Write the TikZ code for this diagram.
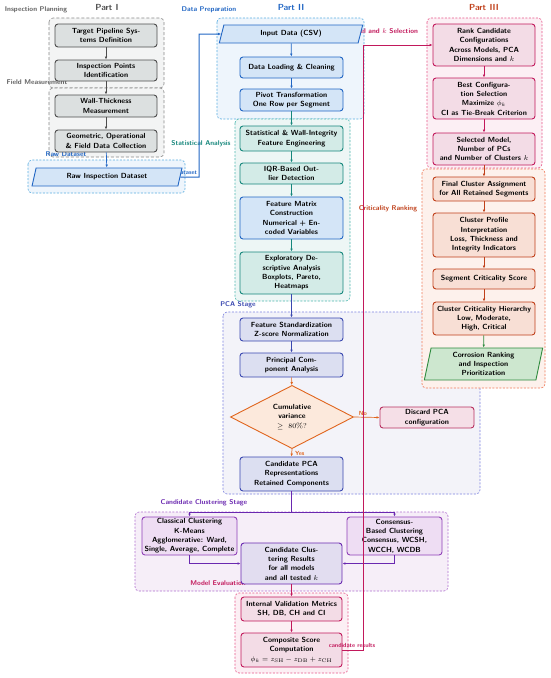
\documentclass[tikz,border=0pt]{standalone}
\usepackage{fontspec}
\usetikzlibrary{arrows.meta,shapes.geometric,calc}
\definecolor{gB}{HTML}{4D4D4D}
\definecolor{gF}{HTML}{DCE0E0}
\definecolor{gG}{HTML}{F3F4F4}
\definecolor{gD}{HTML}{8A8A8A}
\definecolor{bB}{HTML}{2166C4}
\definecolor{bF}{HTML}{D4E5F7}
\definecolor{bG}{HTML}{EEF5FC}
\definecolor{bD}{HTML}{5AAEE0}
\definecolor{tB}{HTML}{16877C}
\definecolor{tF}{HTML}{D3EBE7}
\definecolor{tG}{HTML}{EDF6F5}
\definecolor{tD}{HTML}{4DB8B0}
\definecolor{iB}{HTML}{3A48B0}
\definecolor{iF}{HTML}{DCDFF1}
\definecolor{iG}{HTML}{F3F3F9}
\definecolor{iD}{HTML}{7C82E0}
\definecolor{oB}{HTML}{E0651E}
\definecolor{oF}{HTML}{FCE9DC}
\definecolor{pkB}{HTML}{B8305F}
\definecolor{pkF}{HTML}{F5DFE7}
\definecolor{uB}{HTML}{9040B8}
\definecolor{uF}{HTML}{EEDDF3}
\definecolor{uS}{HTML}{6A28B0}
\definecolor{uR}{HTML}{E2DDF0}
\definecolor{uG}{HTML}{F6EEF8}
\definecolor{uD}{HTML}{B070D0}
\definecolor{cB}{HTML}{C2185B}
\definecolor{cF}{HTML}{F3DCE6}
\definecolor{cG}{HTML}{FCEFF4}
\definecolor{cD}{HTML}{E8578A}
\definecolor{rB}{HTML}{C0401A}
\definecolor{rF}{HTML}{F8DFD5}
\definecolor{rG}{HTML}{FDF1EC}
\definecolor{rD}{HTML}{F07A5A}
\definecolor{nB}{HTML}{2E8B3E}
\definecolor{nF}{HTML}{CDE7CF}
\newcommand{\bxfont}{\sffamily\bfseries\fontsize{7.4}{9.3}\selectfont}
\newcommand{\lbfont}{\sffamily\bfseries\fontsize{6.9}{8}\selectfont}
\newcommand{\ptfont}{\sffamily\bfseries\fontsize{8.8}{10}\selectfont}
\newcommand{\smfont}{\sffamily\bfseries\fontsize{6}{7}\selectfont}
\tikzset{
  box/.style={rounded corners=3pt, line width=0.9pt, align=center, inner sep=1pt, font=\bxfont, text=black},
  gbox/.style={box, draw=gB, fill=gF, minimum width=102pt},
  bbox/.style={box, draw=bB, fill=bF, minimum width=103pt},
  tbox/.style={box, draw=tB, fill=tF, minimum width=103pt},
  ibox/.style={box, draw=iB, fill=iF, minimum width=103pt},
  ubox/.style={box, draw=uB, fill=uF, minimum width=95pt},
  cbox/.style={box, draw=cB, fill=cF, minimum width=102pt},
  rbox/.style={box, draw=rB, fill=rF, minimum width=102pt},
  para/.style={trapezium, trapezium stretches=true, line width=0.9pt, align=center, inner sep=1pt, font=\bxfont, text=black},
  grp/.style={rounded corners=4pt, line width=0.6pt, dash pattern=on 2pt off 1.5pt},
  ggrp/.style={rounded corners=4pt, line width=0.6pt, dash pattern=on 3pt off 2pt},
  glabel/.style={font=\lbfont, inner sep=0pt},
  plabel/.style={font=\ptfont, inner sep=0pt},
  arr/.style={-{Latex[length=3pt,width=2.6pt]}, line width=0.7pt},
  elabel/.style={font=\smfont, inner sep=1pt}
}
\begin{document}
\begin{tikzpicture}[x=1pt,y=-1pt]
\useasboundingbox[fill=white] (0,0) rectangle (550,678);
% ---------- groups ----------
\draw[ggrp, draw=gD, fill=gG] (49,18) rectangle (164,88);
\draw[ggrp, draw=gD, fill=gG] (49,88) rectangle (164,157);
\draw[grp, draw=bD, fill=bG] (28,160) rectangle (185,193);
\draw[grp, draw=bD, fill=bG] (217,18) rectangle (364,119);
\draw[grp, draw=tD, fill=tG] (235,119) rectangle (350,301);
\draw[grp, draw=iD, fill=iG] (223,312) rectangle (480,494);
\draw[grp, draw=uD, fill=uG] (135,512) rectangle (448,591);
\draw[grp, draw=cD, fill=cG] (235,593) rectangle (348,673);
\draw[grp, draw=cD, fill=cG] (427,18) rectangle (542,168);
\draw[grp, draw=rD, fill=rG] (422,169) rectangle (545,388);
% ---------- part titles and group labels ----------
\node[plabel, text=gB] (partI) at (107,7) {Part I};
\node[plabel, text=bB] (partII) at (291,7) {Part II};
\node[plabel, text=rB] (partIII) at (484,7) {Part III};
\node[glabel, text=gB!90] (lIP) at (36,10) {Inspection Planning};
\node[glabel, text=gB!90] (lFM) at (37,82) {Field Measurement};
\node[glabel, text=bB] (lRD) at (66,154) {Raw Dataset};
\node[glabel, text=bB] (lDP) at (209,10) {Data Preparation};
\node[glabel, text=tB] (lSA) at (201,144) {Statistical Analysis};
\node[glabel, text=iB] (lPCA) at (238,305) {PCA Stage};
\node[glabel, text=uS] (lCC) at (204,503) {Candidate Clustering Stage};
\node[glabel, text=cB] (lME) at (218,583) {Model Evaluation};
\node[glabel, text=cB] (lMK) at (382,31) {Model and $k$ Selection};
\node[glabel, text=rB] (lCR) at (388,209) {Criticality Ranking};
\node[elabel, text=bB] (lds) at (187,172) {dataset};
% ---------- Part I ----------
\node[gbox, minimum height=23pt] (t1) at (106,35.5) {Target Pipeline Sys-\\tems Definition};
\node[gbox, minimum height=21pt] (t2) at (106,70.5) {Inspection Points\\Identification};
\node[gbox, minimum height=22pt] (t3) at (106,106) {Wall-Thickness\\Measurement};
\node[gbox, minimum height=22pt] (t4) at (106,141) {Geometric, Operational\\\& Field Data Collection};
\node[para, draw=bB, fill=bF, trapezium left angle=74.5, trapezium right angle=105.5, minimum width=150pt, minimum height=18pt] (raw) at (107,177) {Raw Inspection Dataset};
% ---------- Part II ----------
\node[para, draw=bB, fill=bF, trapezium left angle=77, trapezium right angle=103, minimum width=144pt, minimum height=18pt] (input) at (291,34) {Input Data (CSV)};
\node[bbox, minimum height=21pt] (d1) at (291.5,67.5) {Data Loading \& Cleaning};
\node[bbox, minimum height=22pt] (d2) at (291.5,100) {Pivot Transformation\\One Row per Segment};
\node[tbox, minimum height=25pt] (s1) at (291.5,138.5) {Statistical \& Wall-Integrity\\Feature Engineering};
\node[tbox, minimum height=21pt] (s2) at (291.5,173.5) {IQR-Based Out-\\lier Detection};
\node[bbox, minimum height=42pt] (s3) at (291.5,218) {Feature Matrix\\Construction\\Numerical + En-\\coded Variables};
\node[tbox, minimum height=42pt] (s4) at (291.5,273) {Exploratory De-\\scriptive Analysis\\Boxplots, Pareto,\\Heatmaps};
\node[ibox, minimum height=23pt] (p1) at (291.5,329.5) {Feature Standardization\\Z-score Normalization};
\node[ibox, minimum height=24pt] (p2) at (291.5,365) {Principal Com-\\ponent Analysis};
\node[diamond, draw=oB, fill=oF, line width=0.9pt, minimum width=123pt, minimum height=51pt, inner sep=0pt, align=center, font=\bxfont] (dia) at (292,417) {Cumulative\\variance\\$\geq\ 80\%?$};
\node[ibox, minimum height=34pt] (p3) at (291.5,474) {Candidate PCA\\Representations\\Retained Components};
\node[box, draw=pkB, fill=pkF, minimum width=94pt, minimum height=21pt] (disc) at (427,417.5) {Discard PCA\\configuration};
\node[ubox, minimum height=38pt] (c1) at (189.5,536) {Classical Clustering\\K-Means\\Agglomerative: Ward,\\Single, Average, Complete};
\node[ubox, minimum height=38pt] (c2) at (394.5,536) {Consensus-\\Based Clustering\\Consensus, WCSH,\\WCCH, WCDB};
\node[box, draw=uS, fill=uR, minimum width=101pt, minimum height=41pt] (c3) at (291.5,563.5) {Candidate Clus-\\tering Results\\for all models\\and all tested $k$};
\node[cbox, minimum width=101pt, minimum height=24pt] (m1) at (291.5,609) {Internal Validation Metrics\\SH, DB, CH and CI};
\node[cbox, minimum width=101pt, minimum height=34pt] (m2) at (291.5,650) {Composite Score\\Computation\\$\phi_k = z_{\mathrm{SH}} - z_{\mathrm{DB}} + z_{\mathrm{CH}}$};
% ---------- Part III ----------
\node[cbox, minimum height=42pt] (r1) at (484,45) {Rank Candidate\\Configurations\\Across Models, PCA\\Dimensions and $k$};
\node[cbox, minimum height=41pt] (r2) at (484,98.5) {Best Configura-\\tion Selection\\Maximize $\phi_k$\\CI as Tie-Break Criterion};
\node[cbox, minimum height=32pt] (r3) at (484,149) {Selected Model,\\Number of PCs\\and Number of Clusters $k$};
\node[rbox, minimum height=24pt] (k1) at (484,189) {Final Cluster Assignment\\for All Retained Segments};
\node[rbox, minimum height=44pt] (k2) at (484,235) {Cluster Profile\\Interpretation\\Loss, Thickness and\\Integrity Indicators};
\node[rbox, minimum height=20pt] (k3) at (484,279) {Segment Criticality Score};
\node[rbox, minimum height=33pt] (k4) at (484,318.5) {Cluster Criticality Hierarchy\\Low, Moderate,\\High, Critical};
\node[para, draw=nB, fill=nF, trapezium left angle=81, trapezium right angle=99, minimum width=119pt, minimum height=32pt] (k5) at (483.5,364) {Corrosion Ranking\\and Inspection\\Prioritization};
% ---------- connectors ----------
\draw[arr, draw=gB] (t1) -- (t2);
\draw[arr, draw=gB] (t2) -- (t3);
\draw[arr, draw=gB] (t3) -- (t4);
\draw[arr, draw=bB] (t4) -- (raw);
\coordinate (jr) at (199,177);
\coordinate (jt) at (199,34);
\draw[arr, draw=bB, line width=1pt] (raw.east) -- (jr) -- (jt) -- (input.west);
\draw[arr, draw=bB] (input) -- (d1);
\draw[arr, draw=bB] (d1) -- (d2);
\draw[arr, draw=tB] (d2) -- (s1);
\draw[arr, draw=tB] (s1) -- (s2);
\draw[arr, draw=tB] (s2) -- (s3);
\draw[arr, draw=tB] (s3) -- (s4);
\draw[arr, draw=iB] (s4) -- (p1);
\draw[arr, draw=iB] (p1) -- (p2);
\draw[arr, draw=oB] (p2) -- (dia);
\draw[arr, draw=oB] (dia.south) -- (p3.north) node[elabel, text=oB, pos=0.55, right=2pt] (lyes) {Yes};
\draw[arr, draw=oB] (dia.east) -- (disc.west) node[elabel, text=oB, pos=0.35, above] (lno) {No};
\coordinate (js) at (291.5,512);
\draw[line width=0.7pt, draw=uS] (p3.south) -- (js);
\draw[arr, draw=uS] (js) -| (c1.north);
\draw[arr, draw=uS] (js) -| (c2.north);
\draw[arr, draw=uS] (c1.south) |- (c3.west);
\draw[arr, draw=uS] (c2.south) |- (c3.east);
\draw[arr, draw=cB] (c3) -- (m1);
\draw[arr, draw=cB] (m1) -- (m2);
\coordinate (ja) at (363,650);
\coordinate (jb) at (363,45);
\draw[arr, draw=cB, line width=1pt] (m2.east) -- (ja) -- (jb) -- (r1.west);
\node[elabel, text=cB] (lcr) at (352,645) {candidate results};
\draw[arr, draw=cB] (r1) -- (r2);
\draw[arr, draw=cB] (r2) -- (r3);
\draw[arr, draw=rB] (r3) -- (k1);
\draw[arr, draw=rB] (k1) -- (k2);
\draw[arr, draw=rB] (k2) -- (k3);
\draw[arr, draw=rB] (k3) -- (k4);
\draw[arr, draw=nB] (k4) -- (k5);
\end{tikzpicture}
\end{document}
